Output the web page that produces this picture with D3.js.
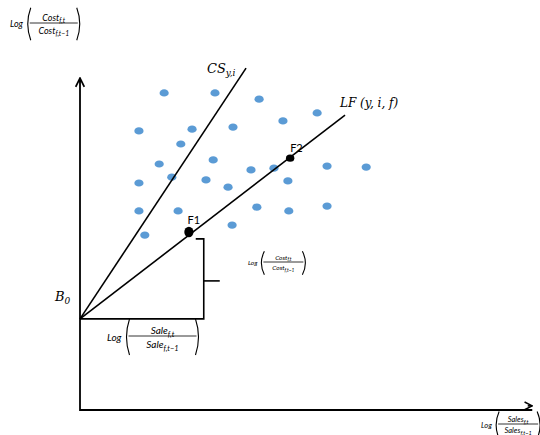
<!DOCTYPE html>
<html>
<head>
<meta charset="utf-8">
<script src="https://cdn.jsdelivr.net/npm/d3@7"></script>
<style>
  body { margin: 0; background: #fff; }
  .serif { font-family: "DejaVu Serif", "Liberation Serif", serif; font-style: italic; }
  .frac { font-family: Lato, "Liberation Sans", sans-serif; font-style: italic; }
</style>
</head>
<body>
<script>
// scatter of firms (data units, origin at lower-left of the axes)
var dotX = [1.87, 3.00, 3.98, 5.27, 4.51, 1.31, 2.49, 3.40, 2.24, 1.76, 2.96, 3.80, 4.31, 5.49,
            6.36, 2.04, 1.31, 2.80, 3.29, 4.62, 1.31, 2.18, 3.93, 4.64, 5.49, 3.38, 1.44];
var dotY = [9.19, 9.19, 9.01, 8.61, 8.38, 8.09, 8.14, 8.20, 7.71, 7.13, 7.25, 6.96, 7.01, 7.07,
            7.04, 6.75, 6.58, 6.67, 6.46, 6.64, 5.77, 5.77, 5.88, 5.77, 5.91, 5.36, 5.07];

// B0 intercept and line end points
var b0 = [0, 2.64];
var csEnd = [3.69, 9.91];
var lfEnd = [5.89, 8.55];

// highlighted firms
var fNames = ["F1", "F2"];
var fX = [2.42, 4.67];
var fY = [5.16, 7.30];

// bracket: x position and top of the vertical part
var bracketX = 2.75;
var bracketTop = 4.96;

window.onload = drawChart();

function drawChart() {
    var width = 540,
        height = 435;

    var svg = d3.select("body")
        .append("svg")
        .attr("width", width)
        .attr("height", height);

    var x = d3.scaleLinear().domain([0, 10]).range([80, 530]);
    var y = d3.scaleLinear().domain([0, 10]).range([410, 65]);

    // arrow heads
    var defs = svg.append("defs");
    defs.append("marker")
        .attr("id", "arrow")
        .attr("viewBox", "0 0 10 10")
        .attr("refX", 9).attr("refY", 5)
        .attr("markerWidth", 6).attr("markerHeight", 6)
        .attr("orient", "auto")
        .append("path")
        .attr("d", "M1,1 L9,5 L1,9")
        .attr("fill", "none")
        .attr("stroke", "#000")
        .attr("stroke-width", 1.6);

    // axes
    svg.append("path")
        .attr("d", "M" + x(0) + "," + y(9.6) + " L" + x(0) + "," + y(0) + " L" + x(10.05) + "," + y(0))
        .attr("fill", "none")
        .attr("stroke", "#000")
        .attr("stroke-width", 1.8);
    // arrow stubs so the markers point outward
    svg.append("line")
        .attr("x1", x(0)).attr("y1", y(9.5)).attr("x2", x(0)).attr("y2", y(9.62))
        .attr("stroke", "#000").attr("stroke-width", 1.8)
        .attr("marker-end", "url(#arrow)");
    svg.append("line")
        .attr("x1", x(9.95)).attr("y1", y(0.12)).attr("x2", x(10.05)).attr("y2", y(0.12))
        .attr("stroke", "#000").attr("stroke-width", 1.6)
        .attr("marker-end", "url(#arrow)");

    // dots
    svg.selectAll(".dot")
        .data(dotX)
        .enter()
        .append("ellipse")
        .attr("class", "dot")
        .attr("cx", function(d) { return x(d); })
        .attr("cy", function(d, i) { return y(dotY[i]); })
        .attr("rx", 4.6)
        .attr("ry", 3.6)
        .attr("fill", "#5b9bd5");

    // CS and LF lines
    var lines = [[b0, csEnd], [b0, lfEnd]];
    svg.selectAll(".ln")
        .data(lines)
        .enter()
        .append("line")
        .attr("class", "ln")
        .attr("x1", function(d) { return x(d[0][0]); })
        .attr("y1", function(d) { return y(d[0][1]); })
        .attr("x2", function(d) { return x(d[1][0]); })
        .attr("y2", function(d) { return y(d[1][1]); })
        .attr("stroke", "#000")
        .attr("stroke-width", 1.6);

    // bracket
    svg.append("path")
        .attr("d", "M" + x(0) + "," + y(b0[1]) +
                   " L" + x(bracketX) + "," + y(b0[1]) +
                   " L" + x(bracketX) + "," + y(bracketTop) +
                   " L" + (x(bracketX) - 8) + "," + y(bracketTop))
        .attr("fill", "none")
        .attr("stroke", "#000")
        .attr("stroke-width", 1.6);
    var midY = y((b0[1] + bracketTop) / 2) + 2;
    svg.append("line")
        .attr("x1", x(bracketX)).attr("y1", midY)
        .attr("x2", x(bracketX) + 16).attr("y2", midY)
        .attr("stroke", "#000").attr("stroke-width", 1.6);

    // F points
    svg.selectAll(".fdot")
        .data(fX)
        .enter()
        .append("ellipse")
        .attr("class", "fdot")
        .attr("cx", function(d) { return x(d); })
        .attr("cy", function(d, i) { return y(fY[i]); })
        .attr("rx", function(d, i) { return i == 0 ? 4.6 : 4.2; })
        .attr("ry", function(d, i) { return i == 0 ? 5.2 : 3.6; })
        .attr("fill", "#000");
    svg.selectAll(".flab")
        .data(fNames)
        .enter()
        .append("text")
        .attr("x", function(d, i) { return x(fX[i]) + (i == 0 ? 5 : 0); })
        .attr("y", function(d, i) { return y(fY[i]) - (i == 0 ? 8 : 6); })
        .attr("text-anchor", function(d, i) { return i == 0 ? "middle" : "start"; })
        .style("font-family", "Lato, 'Liberation Sans', sans-serif")
        .style("font-size", "11px")
        .text(function(d) { return d; });

    // line labels
    var cs = svg.append("text").attr("class", "serif")
        .attr("x", 207).attr("y", 73).style("font-size", "13px");
    cs.append("tspan").text("CS");
    cs.append("tspan").attr("dy", 3).style("font-size", "9px").text("y,i");

    svg.append("text").attr("class", "serif")
        .attr("x", 340).attr("y", 107).style("font-size", "12px")
        .text("LF (y, i, f)");

    var b = svg.append("text").attr("class", "serif")
        .attr("x", 55).attr("y", 301).style("font-size", "13px");
    b.append("tspan").text("B");
    b.append("tspan").attr("dy", 3).style("font-size", "9px").text("0");

    // fraction labels
    fraction(svg, 10, 24, "Cost", "Cost", "f,t", "f,t\u22121", 9, 48);
    fraction(svg, 107, 337, "Sale", "Sale", "f,t", "f,t\u22121", 10, 68);
    fraction(svg, 248, 263, "Cost", "Cost", "f,t", "f,t\u22121", 6.5, 40);
    fraction(svg, 481, 425, "Sales", "Sales", "f,t", "f,t\u22121", 7.5, 40);
}

// Log( num / den ) drawn with big parentheses
function fraction(svg, left, midY, num, den, numSub, denSub, size, w) {
    var g = svg.append("g").attr("class", "frac");
    var logW = size * 1.75;
    g.append("text")
        .attr("x", left).attr("y", midY + size * 0.35)
        .style("font-size", size + "px")
        .text("Log");
    var pl = left + logW + 1;
    var h = size * 1.8;
    // parentheses
    g.append("path")
        .attr("d", "M" + (pl + 4) + "," + (midY - h) + " Q" + (pl - 2) + "," + midY + " " + (pl + 4) + "," + (midY + h))
        .attr("fill", "none").attr("stroke", "#000").attr("stroke-width", 1.1);
    var pr = pl + w + 6;
    g.append("path")
        .attr("d", "M" + (pr - 4) + "," + (midY - h) + " Q" + (pr + 2) + "," + midY + " " + (pr - 4) + "," + (midY + h))
        .attr("fill", "none").attr("stroke", "#000").attr("stroke-width", 1.1);
    var cx = (pl + pr) / 2;
    // fraction bar
    g.append("line")
        .attr("x1", pl + 3).attr("x2", pr - 3)
        .attr("y1", midY - 1).attr("y2", midY - 1)
        .attr("stroke", "#000").attr("stroke-width", 0.8);
    var n = g.append("text")
        .attr("x", cx).attr("y", midY - 3.5)
        .attr("text-anchor", "middle")
        .style("font-size", size + "px");
    n.append("tspan").text(num);
    n.append("tspan").attr("dy", size * 0.3).style("font-size", (size * 0.75) + "px").text(numSub);
    var d = g.append("text")
        .attr("x", cx).attr("y", midY + size + 0.5)
        .attr("text-anchor", "middle")
        .style("font-size", size + "px");
    d.append("tspan").text(den);
    d.append("tspan").attr("dy", size * 0.3).style("font-size", (size * 0.75) + "px").text(denSub);
}
</script>
</body>
</html>
